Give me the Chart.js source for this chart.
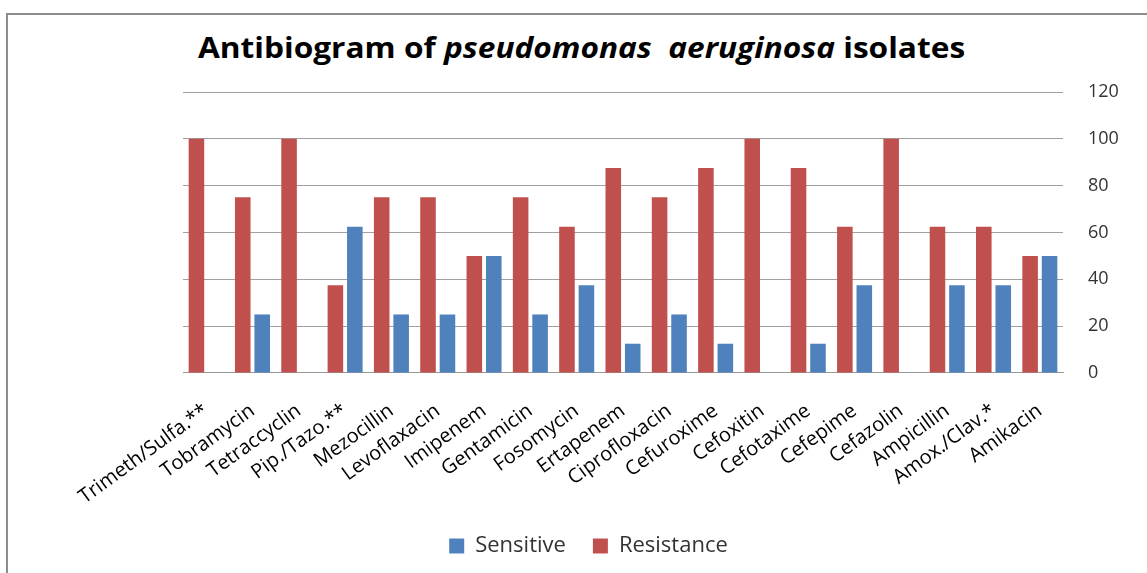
<!DOCTYPE html>
<html>
<head>
<meta charset="utf-8">
<script src="https://cdn.jsdelivr.net/npm/chart.js@4"></script>
<style>
  html, body { margin: 0; padding: 0; background: #fff; }
  #wrap { position: relative; width: 1147px; height: 573px; overflow: hidden; }
  #frame { position: absolute; left: 6px; top: 13px; width: 1160px; height: 600px; border: 2px solid #8c8c8c; box-sizing: border-box; }
  #title { position: absolute; left: 0; top: 28px; width: 1163px; text-align: center;
           font-family: "Open Sans", sans-serif; font-weight: bold; font-size: 28px; color: #000;
           transform: scaleX(1.13); transform-origin: 581px 0; }
  canvas { position: absolute; left: 0; top: 0; }
</style>
</head>
<body>
<div id="wrap">
  <div id="frame"></div>
  <div id="title">Antibiogram of <i>pseudomonas&nbsp; aeruginosa</i> isolates</div>
  <canvas id="chart" width="1147" height="573"></canvas>
</div>
<script>
// antibiotics, left to right
let drugs = ['Trimeth/Sulfa.**', 'Tobramycin', 'Tetraccyclin', 'Pip./Tazo.**', 'Mezocillin',
  'Levoflaxacin', 'Imipenem', 'Gentamicin', 'Fosomycin', 'Ertapenem', 'Ciprofloxacin',
  'Cefuroxime', 'Cefoxitin', 'Cefotaxime', 'Cefepime', 'Cefazolin', 'Ampicillin',
  'Amox./Clav.*', 'Amikacin'];

// percent of isolates
let resistance = [100, 75, 100, 37.5, 75, 75, 50, 75, 62.5, 87.5, 75, 87.5, 100, 87.5, 62.5, 100, 62.5, 62.5, 50];
let sensitive  = [0, 25, 0, 62.5, 25, 25, 50, 25, 37.5, 12.5, 25, 12.5, 0, 12.5, 37.5, 0, 37.5, 37.5, 50];

let yTicks = [0, 20, 40, 60, 80, 100, 120];

let font = '"Open Sans", sans-serif';

let ctx = document.getElementById('chart');
let chart = new Chart(ctx, {
  type: 'bar',
  data: {
    labels: drugs,
    datasets: [
      { label: 'Resistance', data: resistance, backgroundColor: '#C0504D' },
      { label: 'Sensitive', data: sensitive, backgroundColor: '#4F81BD' }
    ]
  },
  options: {
    responsive: false,
    animation: false,
    categoryPercentage: 0.84,
    barPercentage: 0.8,
    layout: { padding: { top: 92, left: 30, right: 0, bottom: 6 } },
    plugins: {
      legend: {
        position: 'bottom',
        reverse: true,
        labels: { font: { family: font, size: 22 }, color: '#333', boxWidth: 15, boxHeight: 15, padding: 27 }
      },
      tooltip: { enabled: false }
    },
    scales: {
      x: {
        grid: { display: false, drawTicks: false },
        border: { color: '#999' },
        // labels sit lower than the box they need, like the original
        afterFit: s => { s.height -= 27; },
        ticks: {
          autoSkip: false, minRotation: 36, maxRotation: 36, padding: 26,
          color: '#000', font: { family: font, size: 20 }
        }
      },
      y: {
        position: 'right',
        min: 0, max: 120,
        afterBuildTicks: s => { s.ticks = yTicks.map(v => ({ value: v })); },
        afterFit: s => { s.width = 84; },
        grid: { color: '#a0a0a0', drawTicks: false },
        border: { display: false },
        ticks: { padding: 25, color: '#333', font: { family: font, size: 18 } }
      },
      // empty spacer so the plot starts where the original does
      pad: {
        position: 'left',
        grid: { display: false },
        border: { display: false },
        ticks: { display: false },
        afterFit: s => { s.width = 153; }
      }
    }
  }
});
</script>
</body>
</html>
